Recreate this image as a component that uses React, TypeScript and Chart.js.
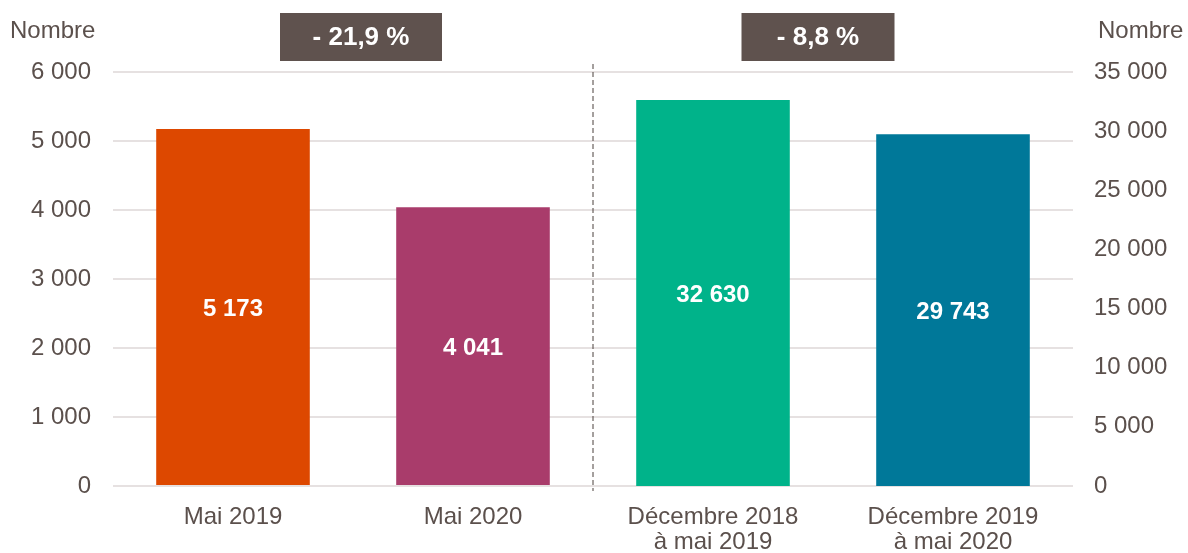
import React, { useEffect, useRef } from "react";
import { Chart, registerables } from "chart.js";

Chart.register(...registerables);

const categories: (string | string[])[] = [
  "Mai 2019",
  "Mai 2020",
  ["Décembre 2018", "à mai 2019"],
  ["Décembre 2019", "à mai 2020"],
];
const monthlyValues: (number | null)[] = [5173, 4041, null, null];
const cumulValues: (number | null)[] = [null, null, 32630, 29743];
const barColors = ["#dd4800", "#a93c6b", "#00b38a", "#007899"];
const leftTicks = { min: 0, max: 6000, step: 1000 };
const rightTicks = { min: 0, max: 35000, step: 5000 };
const changeLabels = ["- 21,9 %", "- 8,8 %"];
const axisTitle = "Nombre";

const TEXT = "#5b504c";
const FONT = "'Liberation Sans', Arial, sans-serif";

const fmt = (v: number) => String(v).replace(/\B(?=(\d{3})+(?!\d))/g, " ");

const overlayPlugin = {
  id: "overlay",
  afterDatasetsDraw(chart: any) {
    const ctx = chart.ctx;
    const area = chart.chartArea;
    const x = chart.scales.x;
    ctx.save();
    // data labels
    chart.data.datasets.forEach((ds: any, di: number) => {
      const meta = chart.getDatasetMeta(di);
      meta.data.forEach((bar: any, i: number) => {
        const v = ds.data[i];
        if (v == null) return;
        const mid = (bar.y + bar.base) / 2;
        ctx.fillStyle = "#ffffff";
        ctx.font = `bold 24px ${FONT}`;
        ctx.textAlign = "center";
        ctx.textBaseline = "middle";
        ctx.fillText(fmt(v), bar.x, mid + 2);
      });
    });
    // dashed separator
    const sepX = (x.getPixelForValue(1) + x.getPixelForValue(2)) / 2;
    ctx.strokeStyle = "#4a403c";
    ctx.lineWidth = 1;
    ctx.setLineDash([5, 3]);
    ctx.beginPath();
    ctx.moveTo(sepX, area.top - 8);
    ctx.lineTo(sepX, area.bottom + 5);
    ctx.stroke();
    ctx.setLineDash([]);
    // change boxes
    const boxes = [
      { cx: (x.getPixelForValue(0) + x.getPixelForValue(1)) / 2 + 8, w: 162 },
      { cx: (x.getPixelForValue(2) + x.getPixelForValue(3)) / 2 - 15, w: 153 },
    ];
    boxes.forEach((b, i) => {
      ctx.fillStyle = "#5f524e";
      ctx.fillRect(b.cx - b.w / 2, 13, b.w, 48);
      ctx.fillStyle = "#ffffff";
      ctx.font = `bold 26px ${FONT}`;
      ctx.textAlign = "center";
      ctx.textBaseline = "middle";
      ctx.fillText(changeLabels[i], b.cx, 38);
    });
    // axis titles
    ctx.fillStyle = TEXT;
    ctx.font = `24px ${FONT}`;
    ctx.textBaseline = "middle";
    ctx.textAlign = "left";
    ctx.fillText(axisTitle, 10, 31);
    ctx.fillText(axisTitle, 1098, 31);
    ctx.restore();
  },
};

export default function App() {
  const ref = useRef<HTMLCanvasElement | null>(null);
  useEffect(() => {
    if (!ref.current) return;
    const chart = new Chart(ref.current, {
      type: "bar",
      data: {
        labels: categories as any,
        datasets: [
          {
            data: monthlyValues,
            backgroundColor: barColors,
            yAxisID: "y",
            grouped: false,
            categoryPercentage: 0.64,
            barPercentage: 1,
          } as any,
          {
            data: cumulValues,
            backgroundColor: barColors,
            yAxisID: "y1",
            grouped: false,
            categoryPercentage: 0.64,
            barPercentage: 1,
          } as any,
        ],
      },
      options: {
        responsive: false,
        animation: false,
        layout: { padding: { top: 72, left: 0, right: 0, bottom: 0 } },
        plugins: {
          legend: { display: false },
          tooltip: { enabled: false },
        },
        scales: {
          x: {
            grid: { display: false, drawTicks: false },
            border: { display: false },
            ticks: {
              color: TEXT,
              font: { family: FONT, size: 24, lineHeight: 1.05 },
              padding: 19,
              maxRotation: 0,
              autoSkip: false,
            },
            afterFit: (s: any) => {
              s.height = 67;
            },
          },
          y: {
            position: "left",
            min: leftTicks.min,
            max: leftTicks.max,
            grid: { color: "#e6e1e1", lineWidth: 2, drawTicks: false },
            border: { display: false },
            ticks: {
              stepSize: leftTicks.step,
              color: TEXT,
              font: { family: FONT, size: 24 },
              padding: 22,
              callback: (v: any) => fmt(Number(v)),
            },
            afterFit: (s: any) => {
              s.width = 113;
            },
          },
          y1: {
            position: "right",
            min: rightTicks.min,
            max: rightTicks.max,
            grid: { display: false, drawTicks: false },
            border: { display: false },
            ticks: {
              stepSize: rightTicks.step,
              color: TEXT,
              font: { family: FONT, size: 24 },
              padding: 21,
              callback: (v: any) => fmt(Number(v)),
            },
            afterFit: (s: any) => {
              s.width = 115;
            },
          },
        },
      } as any,
      plugins: [overlayPlugin],
    });
    return () => chart.destroy();
  }, []);
  return (
    <div style={{ position: "fixed", left: 0, top: 0, width: 1188, height: 553, background: "#fff" }}>
      <canvas ref={ref} width={1188} height={553} style={{ display: "block" }} />
    </div>
  );
}
